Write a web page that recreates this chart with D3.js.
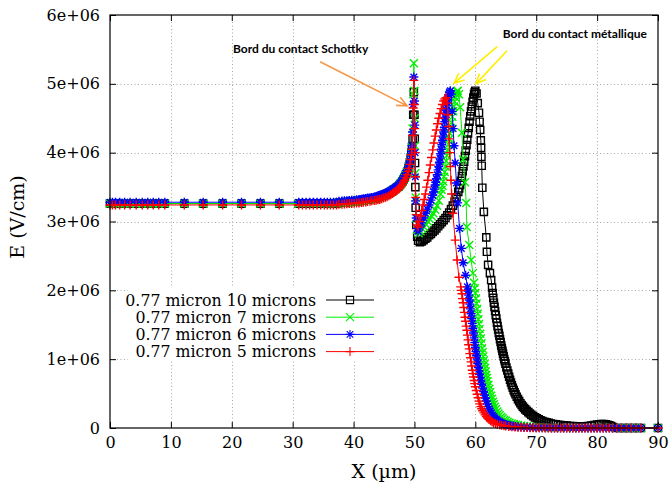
<!DOCTYPE html>
<html><head><meta charset="utf-8">
<script src="https://cdn.jsdelivr.net/npm/d3@7"></script>
<style>body{margin:0;background:#fff}svg{display:block}</style>
</head><body>
<svg id="c" width="671" height="485"></svg>
<script>
// ---------- data (E in units of 1e6 V/cm, X in µm) ----------
const xTicks = [0,10,20,30,40,50,60,70,80,90];
const yTicks = [0,1e6,2e6,3e6,4e6,5e6,6e6];
const yTickLabels = ["0","1e+06","2e+06","3e+06","4e+06","5e+06","6e+06"];
const seriesNames = ["0.77 micron 10 microns","0.77 micron 7 microns","0.77 micron 6 microns","0.77 micron 5 microns"];

// bulk region: common mesh, one flat level per curve (black, green, blue, red)
const xFlat = [0,0.4,0.9,1.6,2.4,3.3,4.3,5.3,6.2,7.1,8.0,9.0,12.2,15.3,18.5,21.6,24.7,27.8,31.0,31.6,32.2,32.8,33.4,34.0,34.6,35.2,35.7,36.2,36.7,37.2];
const flatLevels = [3.26,3.26,3.28,3.24];

// approach to the Schottky edge, [x, E]
const riseBlack = [[37.6,3.275],[38.1,3.277],[38.5,3.28],[38.9,3.28],[39.3,3.285],[39.7,3.29],[40.1,3.29],[40.5,3.295],[40.9,3.30],[41.3,3.305],[41.6,3.31],[42.0,3.315],[42.3,3.32],[42.7,3.325],[43.0,3.33],[43.4,3.335],[43.7,3.34],[44.0,3.35],[44.3,3.36],[44.6,3.37],[44.9,3.38],[45.2,3.39],[45.5,3.40],[45.8,3.415],[46.1,3.43],[46.4,3.445],[46.6,3.46],[46.9,3.475],[47.1,3.49],[47.4,3.51],[47.6,3.53],[47.8,3.555],[48.0,3.58],[48.2,3.61],[48.4,3.64],[48.6,3.68],[48.8,3.72],[49.0,3.77],[49.1,3.80],[49.25,3.86],[49.4,3.93],[49.5,4.0],[49.6,4.08]];
const riseGreen = [[37.6,3.275],[38.1,3.277],[38.5,3.28],[38.9,3.28],[39.3,3.285],[39.7,3.29],[40.1,3.29],[40.5,3.295],[40.9,3.30],[41.3,3.305],[41.6,3.31],[42.0,3.315],[42.3,3.32],[42.7,3.325],[43.0,3.33],[43.4,3.335],[43.7,3.34],[44.0,3.35],[44.3,3.36],[44.6,3.37],[44.9,3.38],[45.2,3.39],[45.5,3.40],[45.8,3.415],[46.1,3.43],[46.4,3.445],[46.6,3.46],[46.9,3.475],[47.1,3.49],[47.4,3.51],[47.6,3.53],[47.8,3.555],[48.0,3.58],[48.2,3.61],[48.4,3.64],[48.6,3.68],[48.8,3.72],[49.0,3.77],[49.1,3.80],[49.25,3.86],[49.4,3.93],[49.5,4.0],[49.6,4.08]];
const riseBlue = [[37.6,3.295],[38.1,3.297],[38.5,3.30],[38.9,3.30],[39.3,3.305],[39.7,3.31],[40.1,3.31],[40.5,3.315],[40.9,3.32],[41.3,3.325],[41.6,3.33],[42.0,3.335],[42.3,3.34],[42.7,3.345],[43.0,3.35],[43.4,3.355],[43.7,3.36],[44.0,3.37],[44.3,3.38],[44.6,3.39],[44.9,3.40],[45.2,3.41],[45.5,3.42],[45.8,3.435],[46.1,3.45],[46.4,3.465],[46.6,3.48],[46.9,3.495],[47.1,3.51],[47.4,3.53],[47.6,3.55],[47.8,3.575],[48.0,3.60],[48.2,3.63],[48.4,3.66],[48.6,3.70],[48.8,3.74],[49.0,3.79],[49.1,3.82],[49.25,3.88],[49.4,3.95],[49.5,4.02],[49.6,4.10]];
const riseRed = [[37.6,3.25],[38.1,3.252],[38.5,3.255],[38.9,3.257],[39.3,3.26],[39.7,3.262],[40.1,3.265],[40.5,3.267],[40.9,3.27],[41.3,3.275],[41.6,3.28],[42.0,3.285],[42.3,3.29],[42.7,3.295],[43.0,3.30],[43.4,3.305],[43.7,3.31],[44.0,3.315],[44.3,3.32],[44.6,3.33],[44.9,3.34],[45.2,3.35],[45.5,3.36],[45.8,3.375],[46.1,3.39],[46.4,3.405],[46.6,3.42],[46.9,3.435],[47.1,3.45],[47.4,3.47],[47.6,3.49],[47.8,3.515],[48.0,3.54],[48.2,3.57],[48.4,3.60],[48.6,3.64],[48.8,3.68],[49.0,3.73],[49.1,3.77],[49.25,3.83],[49.4,3.90],[49.5,3.97],[49.6,4.05]];

// Schottky spike, second peak and tail, [x, E]
const rightBlack = [[49.7,4.2],[49.8,4.55],[49.9,4.88],[50.0,4.55],[50.05,4.2],[50.1,3.85],[50.15,3.5],[50.2,3.2],[50.3,2.95],[50.45,2.78],
 [50.6,2.72],[50.9,2.7],[51.2,2.71],[51.5,2.73],[51.8,2.75],[52.1,2.77],[52.4,2.8],[52.7,2.82],[53.0,2.85],[53.3,2.87],[53.6,2.9],[53.9,2.93],[54.2,2.96],[54.5,2.99],[54.8,3.02],[55.1,3.05],[55.4,3.09],[55.7,3.13],[56.0,3.18],[56.3,3.23],[56.6,3.29],[56.9,3.35],[57.2,3.43],[57.35,3.48],[57.5,3.53],[57.65,3.59],[57.8,3.66],[57.92,3.73],[58.05,3.8],[58.17,3.87],[58.3,3.95],[58.42,4.03],[58.55,4.11],[58.67,4.19],[58.8,4.28],[58.92,4.36],[59.05,4.45],[59.17,4.53],[59.3,4.6],[59.42,4.67],[59.55,4.74],[59.67,4.8],[59.8,4.85],[59.9,4.88],[60.0,4.9],
 [60.2,4.86],[60.4,4.72],[60.6,4.58],[60.7,4.45],[60.8,4.33],[60.9,4.18],[60.95,4.07],[61.0,3.94],[61.05,3.81],[61.15,3.49],[61.4,3.14],[61.8,2.77],[61.9,2.56],[62.1,2.37],[62.4,2.25],[62.6,2.15],[62.75,2.04],
 [62.85,1.96],[62.95,1.89],[63.05,1.82],[63.15,1.76],[63.25,1.7],[63.35,1.64],[63.45,1.59],[63.55,1.53],[63.65,1.48],[63.75,1.43],[63.85,1.38],[63.95,1.34],[64.05,1.29],[64.15,1.25],[64.25,1.2],[64.35,1.16],[64.45,1.12],[64.55,1.08],[64.65,1.04],[64.75,1.0],[64.85,0.97],[64.95,0.935],[65.1,0.88],[65.25,0.835],[65.4,0.79],[65.55,0.745],[65.7,0.7],[65.85,0.66],[66.0,0.62],[66.15,0.585],[66.3,0.55],[66.45,0.52],[66.6,0.49],[66.8,0.455],[67.0,0.42],[67.2,0.39],[67.4,0.36],[67.6,0.335],[67.8,0.31],[68.0,0.29],[68.2,0.27],[68.45,0.25],[68.7,0.23],[68.95,0.21],[69.2,0.19],[69.5,0.172],[69.8,0.155],[70.1,0.14],[70.4,0.125],[70.7,0.112],[71.0,0.1],[71.35,0.091],[71.7,0.082],[72.05,0.074],[72.4,0.066],[72.8,0.059],[73.2,0.053],[73.6,0.048],[74.0,0.043],[74.5,0.038],[75.0,0.034],[75.5,0.03],[76.0,0.027],[76.5,0.025],[77.0,0.023],[77.5,0.023],[78.0,0.025],[78.5,0.029],[79.0,0.035],[79.5,0.042],[80.0,0.05],[80.35,0.055],[80.7,0.058],[81.05,0.058],[81.4,0.055],[81.7,0.048],[82.0,0.04],[82.3,0.028],[82.6,0.015]];
const rightGreen = [[49.7,4.35],[49.8,4.85],[49.9,5.3],[50.0,4.9],[50.05,4.5],[50.1,4.1],[50.15,3.7],[50.2,3.35],[50.3,3.05],[50.45,2.88],
 [50.7,2.83],[51.0,2.86],[51.3,2.89],[51.6,2.92],[51.9,2.96],[52.2,3.0],[52.5,3.04],[52.8,3.08],[53.1,3.12],[53.4,3.17],[53.7,3.23],[54.0,3.3],[54.3,3.4],[54.45,3.46],[54.6,3.52],[54.72,3.58],[54.85,3.65],[54.97,3.72],[55.1,3.8],[55.22,3.88],[55.35,3.96],[55.47,4.04],[55.6,4.12],[55.72,4.2],[55.85,4.28],[55.97,4.36],[56.1,4.44],[56.22,4.52],[56.35,4.6],[56.47,4.67],[56.6,4.74],[56.72,4.8],[56.85,4.85],[57.0,4.89],[57.1,4.9],
 [57.3,4.85],[57.5,4.66],[57.8,4.29],[58.0,3.9],[58.3,3.57],[58.5,3.27],[58.6,2.92],[59.0,2.66],[59.3,2.44],[59.6,2.25],[59.8,2.11],
 [59.9,2.03],[60.0,1.96],[60.1,1.88],[60.2,1.81],[60.3,1.73],[60.4,1.66],[60.5,1.58],[60.6,1.51],[60.7,1.44],[60.8,1.37],[60.9,1.3],[61.0,1.23],[61.1,1.16],[61.2,1.1],[61.3,1.04],[61.4,0.98],[61.5,0.925],[61.6,0.87],[61.7,0.82],[61.8,0.77],[61.9,0.725],[62.0,0.68],[62.15,0.625],[62.3,0.57],[62.45,0.52],[62.6,0.47],[62.75,0.425],[62.9,0.38],[63.05,0.345],[63.2,0.31],[63.4,0.275],[63.6,0.24],[63.8,0.21],[64.0,0.185],[64.25,0.16],[64.5,0.14],[64.75,0.12],[65.0,0.105],[65.3,0.09],[65.6,0.078],[65.95,0.067],[66.3,0.057],[66.65,0.049],[67.0,0.042],[67.5,0.036],[68.0,0.03],[68.5,0.025],[69.0,0.02],[69.5,0.016],[70.0,0.013],[70.5,0.01],[71.0,0.008],[71.5,0.0065],[72.0,0.005],[72.5,0.004],[73.0,0.003],[74.0,0.002],[75.0,0.001],[76.0,0],[77.0,0],[78.0,0],[79.0,0.005],[80.0,0.01],[81.0,0.01],[82.0,0.005]];
const rightBlue = [[49.7,4.3],[49.8,4.7],[49.9,5.1],[50.0,4.75],[50.05,4.4],[50.1,4.0],[50.15,3.65],[50.2,3.3],[50.3,3.05],[50.45,2.9],
 [50.6,2.86],[50.9,2.92],[51.2,2.98],[51.5,3.05],[51.8,3.12],[52.1,3.18],[52.4,3.24],[52.7,3.31],[53.0,3.38],[53.15,3.43],[53.25,3.47],[53.4,3.53],[53.5,3.57],[53.6,3.62],[53.75,3.68],[53.9,3.75],[54.0,3.8],[54.1,3.86],[54.2,3.92],[54.3,3.985],[54.4,4.05],[54.5,4.115],[54.6,4.18],[54.7,4.24],[54.8,4.3],[54.9,4.37],[55.0,4.45],[55.08,4.51],[55.15,4.57],[55.22,4.62],[55.3,4.68],[55.38,4.73],[55.45,4.77],[55.52,4.8],[55.6,4.84],[55.75,4.88],[55.9,4.9],
 [56.05,4.85],[56.2,4.6],[56.35,4.35],[56.5,4.1],[56.7,3.85],[56.9,3.56],[57.1,3.27],[57.4,2.9],[57.7,2.61],[58.0,2.4],[58.4,2.22],[58.7,2.05],
 [58.8,1.99],[58.9,1.93],[59.0,1.86],[59.1,1.8],[59.2,1.73],[59.3,1.66],[59.4,1.59],[59.5,1.52],[59.6,1.45],[59.7,1.38],[59.8,1.31],[59.9,1.24],[60.0,1.17],[60.1,1.11],[60.2,1.05],[60.3,0.99],[60.4,0.935],[60.5,0.88],[60.6,0.83],[60.7,0.78],[60.8,0.735],[60.9,0.69],[61.05,0.635],[61.2,0.58],[61.35,0.53],[61.5,0.48],[61.65,0.435],[61.8,0.39],[61.95,0.35],[62.1,0.31],[62.25,0.28],[62.4,0.25],[62.6,0.22],[62.8,0.19],[63.0,0.165],[63.2,0.145],[63.45,0.125],[63.7,0.105],[63.95,0.09],[64.2,0.075],[64.5,0.065],[64.8,0.055],[65.1,0.047],[65.5,0.04],[65.8,0.034],[66.2,0.028],[66.6,0.023],[67.0,0.018],[67.5,0.015],[68.0,0.012],[68.5,0.01],[69.0,0.008],[69.5,0.006],[70.0,0.005],[70.5,0.004],[71.0,0.003],[71.5,0.0025],[72.0,0.002]];
const rightRed = [[49.7,4.25],[49.8,4.65],[49.9,5.05],[50.0,4.7],[50.05,4.35],[50.1,4.0],[50.15,3.65],[50.2,3.35],[50.3,3.1],[50.45,2.95],
 [50.6,2.92],[50.8,3.0],[51.0,3.08],[51.2,3.16],[51.4,3.24],[51.6,3.32],[51.8,3.4],[52.0,3.5],[52.2,3.6],[52.4,3.71],[52.6,3.82],[52.8,3.93],[53.0,4.04],[53.2,4.14],[53.4,4.24],[53.6,4.33],[53.8,4.42],[54.0,4.5],[54.2,4.57],[54.4,4.64],[54.6,4.7],[54.8,4.75],[55.0,4.78],[55.2,4.8],
 [55.4,4.72],[55.5,4.55],[55.6,4.38],[55.7,4.2],[55.8,4.0],[55.9,3.8],[56.0,3.6],[56.1,3.4],[56.3,3.12],[56.7,2.73],[57.0,2.44],[57.3,2.19],[57.6,2.05],
 [57.7,2.0],[57.8,1.95],[57.9,1.88],[58.0,1.82],[58.1,1.75],[58.2,1.68],[58.3,1.61],[58.4,1.55],[58.5,1.48],[58.6,1.42],[58.7,1.35],[58.8,1.28],[58.9,1.21],[59.0,1.15],[59.1,1.08],[59.2,1.02],[59.3,0.96],[59.4,0.9],[59.5,0.84],[59.6,0.79],[59.7,0.74],[59.8,0.69],[59.9,0.645],[60.0,0.6],[60.15,0.545],[60.3,0.49],[60.45,0.44],[60.6,0.39],[60.75,0.35],[60.9,0.31],[61.05,0.28],[61.2,0.25],[61.4,0.22],[61.6,0.19],[61.8,0.165],[62.0,0.145],[62.25,0.125],[62.5,0.105],[62.75,0.09],[63.0,0.075],[63.3,0.065],[63.6,0.055],[64.0,0.047],[64.3,0.04],[64.7,0.034],[65.0,0.028],[65.5,0.023],[66.0,0.018],[66.5,0.015],[67.0,0.012],[67.5,0.01],[68.0,0.008],[68.5,0.006],[69.0,0.005],[69.5,0.004],[70.0,0.003],[70.5,0.0025],[71.0,0.002],[71.5,0.0015],[72.0,0.001]];
// zero-field stretch before the metallic contact (red and blue curves), E = 0
const xZeroBand = [72.5,73,73.5,74,74.5,75,75.5,76,76.5,77,77.5,78,78.5,79,79.5,80,80.5,81,81.5,82,82.5];
// metallic contact region, common to every curve
const farTail = [[83.2,0],[84.0,0],[84.8,0],[85.6,0],[86.4,0],[87.2,0],[90.0,0]];

const annotations = [
  {text:"Bord du contact Schottky", x:20.2, y:5.45e6, color:"#f79646", arrows:[[34.5,5.32e6,48.8,4.68e6]]},
  {text:"Bord du contact métallique", x:64.5, y:5.67e6, color:"#ffee00", arrows:[[63.6,5.54e6,56.5,5.01e6],[65.2,5.48e6,60.1,5.0e6]]}
];

// ---------- build ----------
function assemble(level, rise, right, zero){
  const flat = xFlat.map(v=>[v,level]);
  const z = zero ? xZeroBand.map(v=>[v,0]) : [];
  return flat.concat(rise, right, z, farTail);
}
const series = [
  {name:seriesNames[0], color:"#000000", sym:"square", data:assemble(flatLevels[0],riseBlack,rightBlack,false)},
  {name:seriesNames[1], color:"#00f000", sym:"cross",  data:assemble(flatLevels[1],riseGreen,rightGreen,false)},
  {name:seriesNames[2], color:"#0000ff", sym:"star",   data:assemble(flatLevels[2],riseBlue,rightBlue,true)},
  {name:seriesNames[3], color:"#ff0000", sym:"plus",   data:assemble(flatLevels[3],riseRed,rightRed,true)}
];

const svg = d3.select("#c");
svg.append("rect").attr("width",671).attr("height",485).attr("fill","#fff");
const L=110,R=658,T=15,B=428;
const x = d3.scaleLinear().domain([0,90]).range([L,R]);
const y = d3.scaleLinear().domain([0,6e6]).range([B,T]);
const serif = "'DejaVu Serif', serif";

// grid
const grid = svg.append("g").attr("stroke","#a8a8a8").attr("stroke-width",1).attr("stroke-dasharray","1,2.5");
grid.selectAll(".gx").data(xTicks.slice(1,-1)).join("line")
  .attr("x1",d=>Math.round(x(d))+0.5).attr("x2",d=>Math.round(x(d))+0.5).attr("y1",T).attr("y2",B);
grid.selectAll(".gy").data(yTicks.slice(1,-1)).join("line")
  .attr("y1",d=>Math.round(y(d))+0.5).attr("y2",d=>Math.round(y(d))+0.5).attr("x1",L).attr("x2",R);

// opaque key box
svg.append("rect").attr("x",128).attr("y",288).attr("width",250).attr("height",73).attr("fill","#fff");

// axes
function styleAxis(g){ g.select(".domain").remove(); g.selectAll("line").attr("stroke","#000"); g.selectAll("text").attr("font-family",serif).attr("font-size",16).attr("fill","#000"); }
svg.append("g").attr("transform",`translate(0,${B})`)
  .call(d3.axisBottom(x).tickValues(xTicks).tickSize(-6).tickPadding(9).tickFormat(d3.format("d"))).call(styleAxis);
svg.append("g").attr("transform",`translate(${L},0)`)
  .call(d3.axisLeft(y).tickValues(yTicks).tickSize(-6).tickPadding(10).tickFormat((d,i)=>yTickLabels[i])).call(styleAxis);
svg.append("g").attr("transform",`translate(0,${T})`)
  .call(d3.axisTop(x).tickValues(xTicks).tickSize(-6).tickFormat("")).call(styleAxis);
svg.append("g").attr("transform",`translate(${R},0)`)
  .call(d3.axisRight(y).tickValues(yTicks).tickSize(-6).tickFormat("")).call(styleAxis);

// symbols
const symPath = {
  square:"M-3.6,-3.6H3.6V3.6H-3.6Z",
  cross:"M-4,-4L4,4M-4,4L4,-4",
  star:"M-4.5,0H4.5M0,-4.5V4.5M-3.3,-3.3L3.3,3.3M-3.3,3.3L3.3,-3.3",
  plus:"M-4.5,0H4.5M0,-4.5V4.5"
};
const line = d3.line().x(d=>x(d[0])).y(d=>y(d[1]*1e6));
series.forEach(s=>{
  const g = svg.append("g");
  g.append("path").attr("d",line(s.data)).attr("fill","none").attr("stroke",s.color).attr("stroke-width",1);
  g.selectAll("path.m").data(s.data).join("path").attr("class","m")
    .attr("transform",d=>`translate(${x(d[0])},${y(d[1]*1e6)})`)
    .attr("d",symPath[s.sym]).attr("fill","none").attr("stroke",s.color).attr("stroke-width",1.4);
});

// frame
svg.append("rect").attr("x",L).attr("y",T).attr("width",R-L).attr("height",B-T)
  .attr("fill","none").attr("stroke","#000").attr("stroke-width",1.2);

// legend
const key = svg.append("g");
series.forEach((s,i)=>{
  const ly = 300 + i*17.2;
  key.append("text").attr("x",316).attr("y",ly).attr("dy","0.35em").attr("text-anchor","end")
    .attr("font-family",serif).attr("font-size",15.8).text(s.name);
  key.append("line").attr("x1",326).attr("x2",374).attr("y1",ly).attr("y2",ly).attr("stroke",s.color).attr("stroke-width",1);
  key.append("path").attr("transform",`translate(350,${ly})`).attr("d",symPath[s.sym]).attr("fill","none").attr("stroke",s.color).attr("stroke-width",1.1);
});

// axis titles
svg.append("text").attr("transform","translate(17,217) rotate(-90)").attr("dy","0.35em").attr("text-anchor","middle")
  .attr("font-family",serif).attr("font-size",19).text("E (V/cm)");
svg.append("text").attr("x",384).attr("y",478).attr("text-anchor","middle")
  .attr("font-family",serif).attr("font-size",19).text("X (µm)");

// annotations
annotations.forEach(a=>{
  svg.append("text").attr("x",x(a.x)).attr("y",y(a.y)).attr("font-family","Lato, 'Open Sans', sans-serif")
    .attr("font-weight","bold").attr("font-size",12).attr("fill","#000").text(a.text);
  a.arrows.forEach(([x0,y0,x1,y1])=>{
    const X0=x(x0),Y0=y(y0),X1=x(x1),Y1=y(y1);
    const ang=Math.atan2(Y1-Y0,X1-X0), hl=11, ha=0.42;
    const p = `M${X0},${Y0}L${X1},${Y1}M${X1-hl*Math.cos(ang-ha)},${Y1-hl*Math.sin(ang-ha)}L${X1},${Y1}L${X1-hl*Math.cos(ang+ha)},${Y1-hl*Math.sin(ang+ha)}`;
    svg.append("path").attr("d",p).attr("fill","none").attr("stroke",a.color).attr("stroke-width",1.6);
  });
});
</script>
</body></html>
